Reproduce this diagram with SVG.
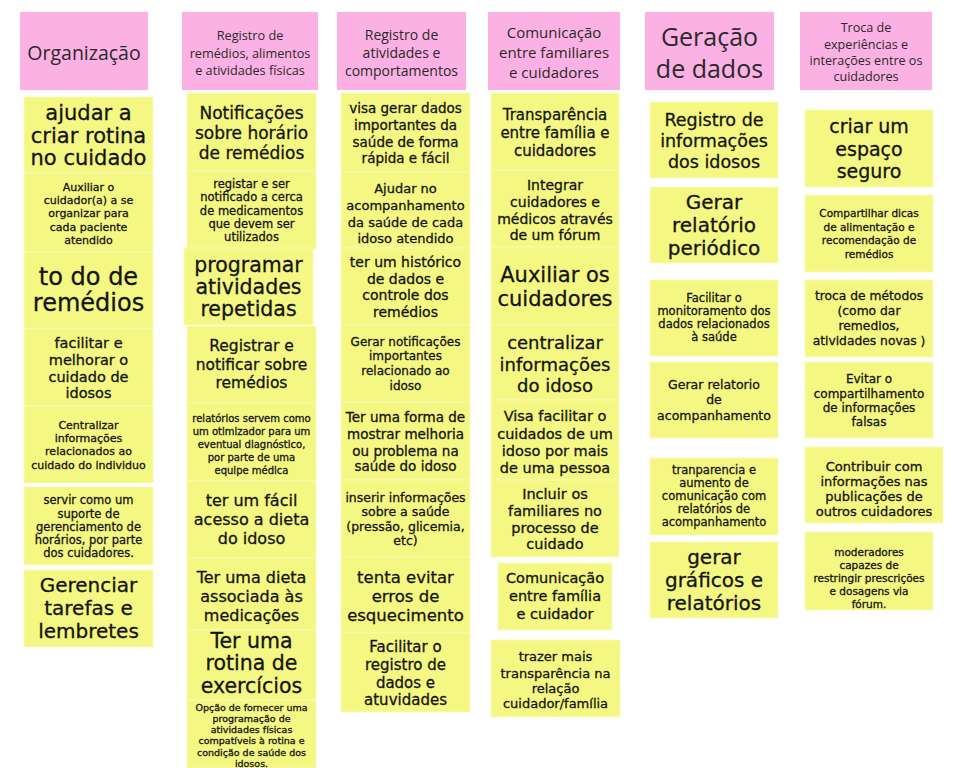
<svg xmlns="http://www.w3.org/2000/svg" width="956" height="768" viewBox="0 0 956 768">
<style>
.h{fill:#fbb1e4}
.n{fill:#f4f781;stroke:#f8f9c4;stroke-width:0.8}
.ht{font-family:"Open Sans","DejaVu Sans",sans-serif;fill:#2a2a2a;text-anchor:middle;dominant-baseline:central}
.t{font-family:"DejaVu Sans","Noto Sans",sans-serif;fill:#151515;stroke:#151515;stroke-width:0.3;text-anchor:middle;dominant-baseline:central}
</style>
<rect width="956" height="768" fill="#ffffff"/>
<g id="headers">
<g id="h1"><rect class="h" x="20" y="12" width="128" height="78"/><text class="ht" font-size="19.5"><tspan x="84" y="52">Organização</tspan></text></g>
<g id="h2"><rect class="h" x="182" y="12" width="136" height="78"/><text class="ht" font-size="12.7"><tspan x="250" y="35">Registro de</tspan><tspan x="250" y="53">remédios, alimentos</tspan><tspan x="250" y="70">e atividades físicas</tspan></text></g>
<g id="h3"><rect class="h" x="337" y="12" width="129" height="78"/><text class="ht" font-size="14"><tspan x="401.5" y="34">Registro de</tspan><tspan x="401.5" y="52">atividades e</tspan><tspan x="401.5" y="70">comportamentos</tspan></text></g>
<g id="h4"><rect class="h" x="488" y="12" width="132" height="78"/><text class="ht" font-size="15"><tspan x="554" y="32">Comunicação</tspan><tspan x="554" y="52">entre familiares</tspan><tspan x="554" y="72">e cuidadores</tspan></text></g>
<g id="h5"><rect class="h" x="645" y="12" width="129" height="78"/><text class="ht" font-size="25"><tspan x="709.5" y="36">Geração</tspan><tspan x="709.5" y="68">de dados</tspan></text></g>
<g id="h6"><rect class="h" x="800" y="12" width="132" height="78"/><text class="ht" font-size="12.6"><tspan x="866" y="27">Troca de</tspan><tspan x="866" y="44">experiências e</tspan><tspan x="866" y="60">interações entre os</tspan><tspan x="866" y="76">cuidadores</tspan></text></g>
</g>
<g id="connectors"></g>

<g id="c1">
<g id="c1n1"><rect class="n" x="24" y="97" width="129" height="76"/><text class="t" font-size="21"><tspan x="88.5" y="113">ajudar a</tspan><tspan x="88.5" y="136">criar rotina</tspan><tspan x="88.5" y="158">no cuidado</tspan></text></g>
<g id="c1n2"><rect class="n" x="24" y="173" width="129" height="79"/><text class="t" font-size="11"><tspan x="88.5" y="187">Auxiliar o</tspan><tspan x="88.5" y="200">cuidador(a) a se</tspan><tspan x="88.5" y="213">organizar para</tspan><tspan x="88.5" y="227">cada paciente</tspan><tspan x="88.5" y="240">atendido</tspan></text></g>
<g id="c1n3"><rect class="n" x="24" y="252" width="129" height="77"/><text class="t" font-size="24"><tspan x="88.5" y="277">to do de</tspan><tspan x="88.5" y="303">remédios</tspan></text></g>
<g id="c1n4"><rect class="n" x="24" y="329" width="129" height="77"/><text class="t" font-size="14.5"><tspan x="88.5" y="343">facilitar e</tspan><tspan x="88.5" y="360">melhorar o</tspan><tspan x="88.5" y="377">cuidado de</tspan><tspan x="88.5" y="393">idosos</tspan></text></g>
<g id="c1n5"><rect class="n" x="24" y="406" width="129" height="77"/><text class="t" font-size="11"><tspan x="88.5" y="425">Centralizar</tspan><tspan x="88.5" y="438">informações</tspan><tspan x="88.5" y="451">relacionados ao</tspan><tspan x="88.5" y="465">cuidado do individuo</tspan></text></g>
<g id="c1n6"><rect class="n" x="24" y="487" width="129" height="78"/><text class="t" font-size="11.5"><tspan x="88.5" y="500">servir como um</tspan><tspan x="88.5" y="514">suporte de</tspan><tspan x="88.5" y="527">gerenciamento de</tspan><tspan x="88.5" y="540">horários, por parte</tspan><tspan x="88.5" y="553">dos cuidadores.</tspan></text></g>
<g id="c1n7"><rect class="n" x="24" y="570" width="129" height="77"/><text class="t" font-size="20"><tspan x="88.5" y="585">Gerenciar</tspan><tspan x="88.5" y="608">tarefas e</tspan><tspan x="88.5" y="631">lembretes</tspan></text></g>
</g>

<g id="c2">
<g id="c2n1"><rect class="n" x="187" y="93" width="129" height="78"/><text class="t" font-size="17"><tspan x="251.5" y="113">Notificações</tspan><tspan x="251.5" y="133">sobre horário</tspan><tspan x="251.5" y="153">de remédios</tspan></text></g>
<g id="c2n2"><rect class="n" x="187" y="171" width="129" height="78"/><text class="t" font-size="11.5"><tspan x="251.5" y="184">registar e ser</tspan><tspan x="251.5" y="197">notificado a cerca</tspan><tspan x="251.5" y="211">de medicamentos</tspan><tspan x="251.5" y="224">que devem ser</tspan><tspan x="251.5" y="237">utilizados</tspan></text></g>
<g id="c2n3"><rect class="n" x="184" y="248" width="129" height="77"/><text class="t" font-size="20.5"><tspan x="248.5" y="265">programar</tspan><tspan x="248.5" y="287">atividades</tspan><tspan x="248.5" y="309">repetidas</tspan></text></g>
<g id="c2n4"><rect class="n" x="187" y="326" width="129" height="77"/><text class="t" font-size="15.5"><tspan x="251.5" y="346">Registrar e</tspan><tspan x="251.5" y="365">notificar sobre</tspan><tspan x="251.5" y="383">remédios</tspan></text></g>
<g id="c2n5"><rect class="n" x="187" y="403" width="129" height="78"/><text class="t" font-size="10"><tspan x="251.5" y="418">relatórios servem como</tspan><tspan x="251.5" y="431">um otimizador para um</tspan><tspan x="251.5" y="444">eventual diagnóstico,</tspan><tspan x="251.5" y="457">por parte de uma</tspan><tspan x="251.5" y="470">equipe médica</tspan></text></g>
<g id="c2n6"><rect class="n" x="187" y="481" width="129" height="77"/><text class="t" font-size="16"><tspan x="251.5" y="500">ter um fácil</tspan><tspan x="251.5" y="519">acesso a dieta</tspan><tspan x="251.5" y="538">do idoso</tspan></text></g>
<g id="c2n7"><rect class="n" x="187" y="558" width="129" height="72"/><text class="t" font-size="16"><tspan x="251.5" y="577">Ter uma dieta</tspan><tspan x="251.5" y="596">associada às</tspan><tspan x="251.5" y="615">medicações</tspan></text></g>
<g id="c2n8"><rect class="n" x="187" y="630" width="129" height="70"/><text class="t" font-size="20.5"><tspan x="251.5" y="641">Ter uma</tspan><tspan x="251.5" y="663">rotina de</tspan><tspan x="251.5" y="686">exercícios</tspan></text></g>
<g id="c2n9"><rect class="n" x="187" y="700" width="129" height="68"/><text class="t" font-size="9.5"><tspan x="251.5" y="707">Opção de fornecer uma</tspan><tspan x="251.5" y="718">programação de</tspan><tspan x="251.5" y="729">atividades físicas</tspan><tspan x="251.5" y="740">compatíveis à rotina e</tspan><tspan x="251.5" y="752">condição de saúde dos</tspan><tspan x="251.5" y="763">idosos.</tspan></text></g>
</g>

<g id="c3">
<g id="c3n1"><rect class="n" x="341" y="93" width="129" height="79"/><text class="t" font-size="13.5"><tspan x="405.5" y="108">visa gerar dados</tspan><tspan x="405.5" y="125">importantes da</tspan><tspan x="405.5" y="142">saúde de forma</tspan><tspan x="405.5" y="158">rápida e fácil</tspan></text></g>
<g id="c3n2"><rect class="n" x="341" y="172" width="129" height="76"/><text class="t" font-size="13"><tspan x="405.5" y="188">Ajudar no</tspan><tspan x="405.5" y="205">acompanhamento</tspan><tspan x="405.5" y="222">da saúde de cada</tspan><tspan x="405.5" y="238">idoso atendido</tspan></text></g>
<g id="c3n3"><rect class="n" x="341" y="248" width="129" height="77"/><text class="t" font-size="14"><tspan x="405.5" y="262">ter um histórico</tspan><tspan x="405.5" y="279">de dados e</tspan><tspan x="405.5" y="295">controle dos</tspan><tspan x="405.5" y="312">remédios</tspan></text></g>
<g id="c3n4"><rect class="n" x="341" y="325" width="129" height="77"/><text class="t" font-size="12"><tspan x="405.5" y="342">Gerar notificações</tspan><tspan x="405.5" y="356">importantes</tspan><tspan x="405.5" y="371">relacionado ao</tspan><tspan x="405.5" y="386">idoso</tspan></text></g>
<g id="c3n5"><rect class="n" x="341" y="402" width="129" height="78"/><text class="t" font-size="13.5"><tspan x="405.5" y="417">Ter uma forma de</tspan><tspan x="405.5" y="434">mostrar melhoria</tspan><tspan x="405.5" y="451">ou problema na</tspan><tspan x="405.5" y="466">saúde do idoso</tspan></text></g>
<g id="c3n6"><rect class="n" x="341" y="480" width="129" height="77"/><text class="t" font-size="12.5"><tspan x="405.5" y="497">inserir informações</tspan><tspan x="405.5" y="511">sobre a saúde</tspan><tspan x="405.5" y="526">(pressão, glicemia,</tspan><tspan x="405.5" y="540">etc)</tspan></text></g>
<g id="c3n7"><rect class="n" x="341" y="557" width="129" height="76"/><text class="t" font-size="16.5"><tspan x="405.5" y="577">tenta evitar</tspan><tspan x="405.5" y="596">erros de</tspan><tspan x="405.5" y="615">esquecimento</tspan></text></g>
<g id="c3n8"><rect class="n" x="341" y="633" width="129" height="79"/><text class="t" font-size="15"><tspan x="405.5" y="647">Facilitar o</tspan><tspan x="405.5" y="665">registro de</tspan><tspan x="405.5" y="683">dados e</tspan><tspan x="405.5" y="700">atuvidades</tspan></text></g>
</g>

<g id="c4">
<g id="c4n1"><rect class="n" x="491" y="93" width="128" height="77"/><text class="t" font-size="15"><tspan x="555" y="115">Transparência</tspan><tspan x="555" y="133">entre família e</tspan><tspan x="555" y="151">cuidadores</tspan></text></g>
<g id="c4n2"><rect class="n" x="491" y="170" width="128" height="77"/><text class="t" font-size="14"><tspan x="555" y="185">Integrar</tspan><tspan x="555" y="202">cuidadores e</tspan><tspan x="555" y="219">médicos através</tspan><tspan x="555" y="235">de um fórum</tspan></text></g>
<g id="c4n3"><rect class="n" x="491" y="247" width="128" height="78"/><text class="t" font-size="21"><tspan x="555" y="275">Auxiliar os</tspan><tspan x="555" y="299">cuidadores</tspan></text></g>
<g id="c4n4"><rect class="n" x="491" y="325" width="128" height="75"/><text class="t" font-size="18"><tspan x="555" y="342">centralizar</tspan><tspan x="555" y="364">informações</tspan><tspan x="555" y="385">do idoso</tspan></text></g>
<g id="c4n5"><rect class="n" x="491" y="400" width="128" height="80"/><text class="t" font-size="14.5"><tspan x="555" y="416">Visa facilitar o</tspan><tspan x="555" y="434">cuidados de um</tspan><tspan x="555" y="451">idoso por mais</tspan><tspan x="555" y="468">de uma pessoa</tspan></text></g>
<g id="c4n6"><rect class="n" x="491" y="480" width="128" height="77"/><text class="t" font-size="14.5"><tspan x="555" y="494">Incluir os</tspan><tspan x="555" y="511">familiares no</tspan><tspan x="555" y="528">processo de</tspan><tspan x="555" y="544">cuidado</tspan></text></g>
<g id="c4n7"><rect class="n" x="498" y="563" width="114" height="67"/><text class="t" font-size="14.5"><tspan x="555" y="578">Comunicação</tspan><tspan x="555" y="596">entre família</tspan><tspan x="555" y="614">e cuidador</tspan></text></g>
<g id="c4n8"><rect class="n" x="491" y="640" width="129" height="77"/><text class="t" font-size="13"><tspan x="555.5" y="656">trazer mais</tspan><tspan x="555.5" y="673">transparência na</tspan><tspan x="555.5" y="688">relação</tspan><tspan x="555.5" y="703">cuidador/família</tspan></text></g>
</g>

<g id="c5">
<g id="c5n1"><rect class="n" x="650" y="102" width="128" height="76"/><text class="t" font-size="17.5"><tspan x="714" y="120">Registro de</tspan><tspan x="714" y="141">informações</tspan><tspan x="714" y="162">dos idosos</tspan></text></g>
<g id="c5n2"><rect class="n" x="650" y="187" width="128" height="76"/><text class="t" font-size="20"><tspan x="714" y="202">Gerar</tspan><tspan x="714" y="225">relatório</tspan><tspan x="714" y="248">periódico</tspan></text></g>
<g id="c5n3"><rect class="n" x="650" y="280" width="128" height="76"/><text class="t" font-size="11.5"><tspan x="714" y="298">Facilitar o</tspan><tspan x="714" y="311">monitoramento dos</tspan><tspan x="714" y="324">dados relacionados</tspan><tspan x="714" y="337">à saúde</tspan></text></g>
<g id="c5n4"><rect class="n" x="650" y="362" width="128" height="76"/><text class="t" font-size="12.5"><tspan x="714" y="384">Gerar relatorio</tspan><tspan x="714" y="399">de</tspan><tspan x="714" y="415">acompanhamento</tspan></text></g>
<g id="c5n5"><rect class="n" x="650" y="458" width="128" height="77"/><text class="t" font-size="11.5"><tspan x="714" y="470">tranparencia e</tspan><tspan x="714" y="483">aumento de</tspan><tspan x="714" y="496">comunicação com</tspan><tspan x="714" y="509">relatórios de</tspan><tspan x="714" y="522">acompanhamento</tspan></text></g>
<g id="c5n6"><rect class="n" x="650" y="542" width="128" height="76"/><text class="t" font-size="20"><tspan x="714" y="557">gerar</tspan><tspan x="714" y="580">gráficos e</tspan><tspan x="714" y="603">relatórios</tspan></text></g>
</g>

<g id="c6">
<g id="c6n1"><rect class="n" x="805" y="110" width="128" height="77"/><text class="t" font-size="19"><tspan x="869" y="126">criar um</tspan><tspan x="869" y="149">espaço</tspan><tspan x="869" y="171">seguro</tspan></text></g>
<g id="c6n2"><rect class="n" x="805" y="195" width="128" height="77"/><text class="t" font-size="10.5"><tspan x="869" y="213">Compartilhar dicas</tspan><tspan x="869" y="227">de alimentação e</tspan><tspan x="869" y="240">recomendação de</tspan><tspan x="869" y="254">remédios</tspan></text></g>
<g id="c6n3"><rect class="n" x="805" y="280" width="128" height="77"/><text class="t" font-size="12.3"><tspan x="869" y="296">troca de métodos</tspan><tspan x="869" y="311">(como dar</tspan><tspan x="869" y="326">remedios,</tspan><tspan x="869" y="341">atividades novas )</tspan></text></g>
<g id="c6n4"><rect class="n" x="805" y="362" width="128" height="76"/><text class="t" font-size="12"><tspan x="869" y="379">Evitar o</tspan><tspan x="869" y="394">compartilhamento</tspan><tspan x="869" y="408">de informações</tspan><tspan x="869" y="422">falsas</tspan></text></g>
<g id="c6n5"><rect class="n" x="805" y="447" width="138" height="76"/><text class="t" font-size="13"><tspan x="874" y="466">Contribuir com</tspan><tspan x="874" y="481">informações nas</tspan><tspan x="874" y="496">publicações de</tspan><tspan x="874" y="511">outros cuidadores</tspan></text></g>
<g id="c6n6"><rect class="n" x="805" y="532" width="128" height="78"/><text class="t" font-size="10.5"><tspan x="869" y="552">moderadores</tspan><tspan x="869" y="565">capazes de</tspan><tspan x="869" y="578">restringir prescrições</tspan><tspan x="869" y="591">e dosagens via</tspan><tspan x="869" y="604">fórum.</tspan></text></g>
</g>
</svg>
